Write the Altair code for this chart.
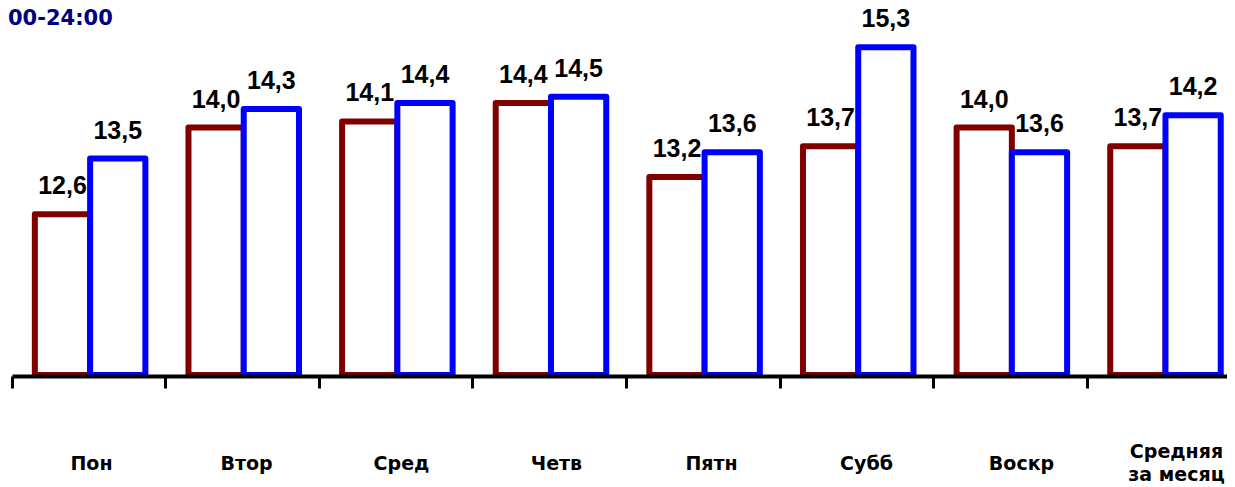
import altair as alt
import pandas as pd

# ---- data ----
days = ["Пон", "Втор", "Сред", "Четв", "Пятн", "Субб", "Воскр", "Средняя за месяц"]
day_labels = ["Пон", "Втор", "Сред", "Четв", "Пятн", "Субб", "Воскр", "Средняя\nза месяц"]
series_names = ["Ряд 1", "Ряд 2"]
values_1 = [12.6, 14.0, 14.1, 14.4, 13.2, 13.7, 14.0, 13.7]
values_2 = [13.5, 14.3, 14.4, 14.5, 13.6, 15.3, 13.6, 14.2]
series_colors = ["#800000", "#0000FF"]
title_text = "00-24:00"

rows = []
for name, vals in zip(series_names, [values_1, values_2]):
    for d, v in zip(days, vals):
        rows.append({"day": d, "series": name, "value": v,
                     "txt": f"{v:.1f}".replace(".", ",")})
df = pd.DataFrame(rows)
cat_df = pd.DataFrame({"day": days, "label": day_labels,
                       "nlines": [lab.count("\n") + 1 for lab in day_labels]})
title_df = pd.DataFrame({"t": [title_text]})

y_scale = alt.Scale(domain=[10, 15.918], nice=False, zero=False)
off_scale = alt.Scale(paddingInner=0, paddingOuter=0.39, align=0.53)
x_scale = alt.Scale(domain=days, paddingInner=0, paddingOuter=0)

bars = alt.Chart(df).mark_bar(
    fill="white", strokeWidth=6, strokeJoin="round"
).encode(
    x=alt.X("day:N", sort=days, scale=x_scale, title=None,
            axis=alt.Axis(labels=False, bandPosition=0, domainColor="black",
                          domainWidth=4, tickColor="black", tickWidth=3,
                          tickSize=12, offset=1, zindex=1, grid=False)),
    xOffset=alt.XOffset("series:N", sort=series_names, scale=off_scale),
    y=alt.Y("value:Q", scale=y_scale, axis=None),
    y2=alt.datum(10),
    stroke=alt.Stroke("series:N", sort=series_names,
                      scale=alt.Scale(domain=series_names, range=series_colors),
                      legend=None),
)

values = alt.Chart(df).mark_text(
    dy=-20, baseline="alphabetic", font="Liberation Sans", fontWeight="bold",
    fontSize=25, color="black"
).encode(
    x=alt.X("day:N", sort=days, scale=x_scale, axis=None),
    xOffset=alt.XOffset("series:N", sort=series_names, scale=off_scale),
    y=alt.Y("value:Q", scale=y_scale, axis=None),
    text="txt:N",
)

cat_x = alt.X("day:N", sort=days, axis=None,
              scale=alt.Scale(domain=days, range=[2, 1242],
                              paddingInner=0, paddingOuter=0))

cats1 = alt.Chart(cat_df).transform_filter("datum.nlines == 1").mark_text(
    baseline="middle", align="center", font="DejaVu Sans", fontWeight="bold",
    fontSize=19, color="black"
).encode(x=cat_x, y=alt.value(455), text="label:N")

cats2 = alt.Chart(cat_df).transform_filter("datum.nlines > 1").mark_text(
    baseline="middle", align="center", font="DejaVu Sans", fontWeight="bold",
    fontSize=19, color="black", lineBreak="\n", lineHeight=23
).encode(x=cat_x, y=alt.value(443), text="label:N")

title = alt.Chart(title_df).mark_text(
    align="left", baseline="alphabetic", font="DejaVu Sans", fontWeight="bold",
    fontSize=21, color="#000080"
).encode(x=alt.value(-4), y=alt.value(16), text="t:N")

chart = alt.layer(bars, values, cats1, cats2, title).resolve_scale(
    x="independent"
).properties(
    width=1229, height=366,
    autosize=alt.AutoSizeParams(type="none"),
    padding={"left": 4, "top": 1, "right": -14, "bottom": 112},
).configure_view(stroke=None)

chart.save("out.html", embed_options={"renderer": "svg", "actions": False})
